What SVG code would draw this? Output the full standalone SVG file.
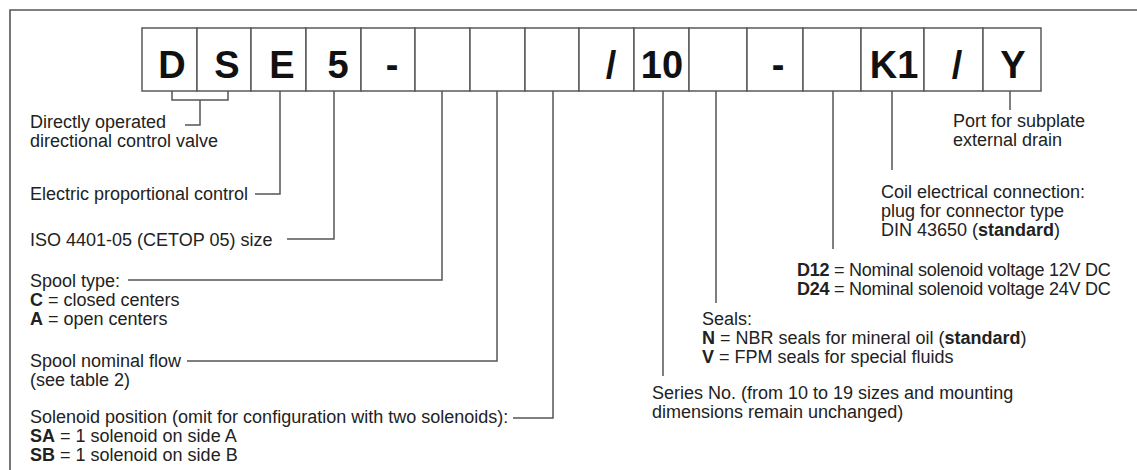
<svg xmlns="http://www.w3.org/2000/svg" width="1137" height="470" viewBox="0 0 1137 470">
<style>
.frame{fill:none;stroke:#555;stroke-width:1.6}
.cell{fill:#fff;stroke:#5a5a5a;stroke-width:1.5}
.code{font-family:"Liberation Sans",Arial,sans-serif;font-weight:bold;font-size:38px;fill:#111;text-anchor:middle}
.lbl{font-family:"Liberation Sans",Arial,sans-serif;font-size:18px;fill:#222}
.b{font-weight:bold}
.tight{letter-spacing:-0.25px}
.conn{fill:none;stroke:#555;stroke-width:1.5}
</style>
<rect width="1137" height="470" fill="#fff"/>
<path class="frame" d="M10,472 V10 H1140"/>

<g id="cells">
  <g id="cell-D"><rect class="cell" x="142" y="28" width="55" height="63"/><text class="code" x="172" y="78">D</text></g>
  <g id="cell-S"><rect class="cell" x="197" y="28" width="54" height="63"/><text class="code" x="227" y="78">S</text></g>
  <g id="cell-E"><rect class="cell" x="251" y="28" width="55" height="63"/><text class="code" x="282" y="78">E</text></g>
  <g id="cell-5"><rect class="cell" x="306" y="28" width="55" height="63"/><text class="code" x="338" y="78">5</text></g>
  <g id="cell-dash1"><rect class="cell" x="361" y="28" width="54" height="63"/><text class="code" x="392" y="78">-</text></g>
  <g id="cell-spooltype"><rect class="cell" x="415" y="28" width="55" height="63"/></g>
  <g id="cell-flow"><rect class="cell" x="470" y="28" width="55" height="63"/></g>
  <g id="cell-solenoid"><rect class="cell" x="525" y="28" width="54" height="63"/></g>
  <g id="cell-slash1"><rect class="cell" x="579" y="28" width="55" height="63"/><text class="code" x="611" y="78">/</text></g>
  <g id="cell-10"><rect class="cell" x="634" y="28" width="55" height="63"/><text class="code" x="662" y="78">10</text></g>
  <g id="cell-seals"><rect class="cell" x="689" y="28" width="58" height="63"/></g>
  <g id="cell-dash2"><rect class="cell" x="747" y="28" width="56" height="63"/><text class="code" x="778" y="78">-</text></g>
  <g id="cell-voltage"><rect class="cell" x="803" y="28" width="58" height="63"/></g>
  <g id="cell-K1"><rect class="cell" x="861" y="28" width="63" height="63"/><text class="code" x="894" y="78">K1</text></g>
  <g id="cell-slash2"><rect class="cell" x="924" y="28" width="59" height="63"/><text class="code" x="957" y="78">/</text></g>
  <g id="cell-Y"><rect class="cell" x="983" y="28" width="58" height="63"/><text class="code" x="1013" y="78">Y</text></g>
</g>

<g id="connectors">
  <path class="conn" d="M172,91 V100 H228 V91 M200,100 V125 H185"/>
  <path class="conn" d="M280,91 V194 H255"/>
  <path class="conn" d="M334,91 V239 H287"/>
  <path class="conn" d="M442,91 V280 H128"/>
  <path class="conn" d="M497,91 V361 H187"/>
  <path class="conn" d="M553,91 V418 H513"/>
  <path class="conn" d="M663,91 V376"/>
  <path class="conn" d="M716,91 V303"/>
  <path class="conn" d="M833,91 V249"/>
  <path class="conn" d="M892,91 V170"/>
  <path class="conn" d="M1010,91 V110"/>
</g>

<g id="label-DS">
  <text class="lbl" x="30" y="128">Directly operated</text>
  <text class="lbl" x="30" y="147">directional control valve</text>
</g>
<g id="label-E"><text class="lbl" x="30" y="200">Electric proportional control</text></g>
<g id="label-5"><text class="lbl" x="30" y="246">ISO 4401-05 (CETOP 05) size</text></g>
<g id="label-spooltype">
  <text class="lbl" x="30" y="287">Spool type:</text>
  <text class="lbl" x="30" y="306"><tspan class="b">C</tspan> = closed centers</text>
  <text class="lbl" x="30" y="325"><tspan class="b">A</tspan> = open centers</text>
</g>
<g id="label-flow">
  <text class="lbl" x="30" y="367">Spool nominal flow</text>
  <text class="lbl" x="30" y="386">(see table 2)</text>
</g>
<g id="label-solenoid">
  <text class="lbl" x="30" y="423">Solenoid position (omit for configuration with two solenoids):</text>
  <text class="lbl" x="30" y="442"><tspan class="b">SA</tspan> = 1 solenoid on side A</text>
  <text class="lbl" x="30" y="461"><tspan class="b">SB</tspan> = 1 solenoid on side B</text>
</g>
<g id="label-series">
  <text class="lbl" x="652" y="399">Series No. (from 10 to 19 sizes and mounting</text>
  <text class="lbl" x="652" y="418">dimensions remain unchanged)</text>
</g>
<g id="label-seals">
  <text class="lbl" x="702" y="325">Seals:</text>
  <text class="lbl" x="702" y="344"><tspan class="b">N</tspan> = NBR seals for mineral oil (<tspan class="b">standard</tspan>)</text>
  <text class="lbl" x="702" y="363"><tspan class="b">V</tspan> = FPM seals for special fluids</text>
</g>
<g id="label-voltage">
  <text class="lbl tight" x="797" y="276"><tspan class="b">D12</tspan> = Nominal solenoid voltage 12V DC</text>
  <text class="lbl tight" x="797" y="295"><tspan class="b">D24</tspan> = Nominal solenoid voltage 24V DC</text>
</g>
<g id="label-K1">
  <text class="lbl" x="881" y="198">Coil electrical connection:</text>
  <text class="lbl" x="881" y="217">plug for connector type</text>
  <text class="lbl" x="881" y="236">DIN 43650 (<tspan class="b">standard</tspan>)</text>
</g>
<g id="label-Y">
  <text class="lbl" x="953" y="127">Port for subplate</text>
  <text class="lbl" x="953" y="146">external drain</text>
</g>
</svg>
